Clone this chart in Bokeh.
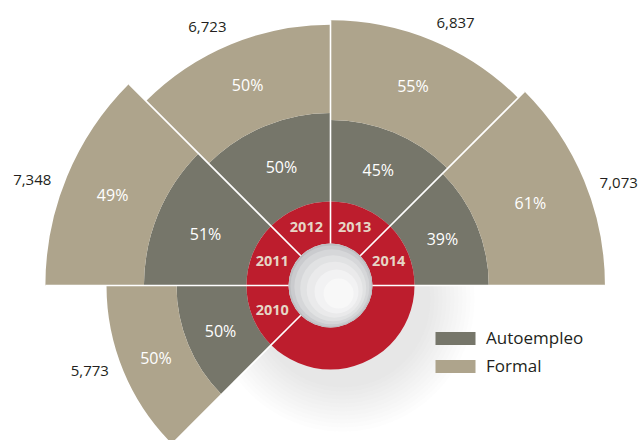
import numpy as np
from bokeh.plotting import figure
from bokeh.models import Legend, LegendItem, ColumnDataSource
from bokeh.embed import file_html
from bokeh.resources import INLINE
from bokeh.core.properties import value

# ---- data ----
years = ["2010", "2011", "2012", "2013", "2014"]
totals = [5773, 7348, 6723, 6837, 7073]
total_labels = ["5,773", "7,348", "6,723", "6,837", "7,073"]
autoempleo_pct = [50, 51, 50, 45, 39]
formal_pct = [50, 49, 50, 55, 61]
series_names = ["Autoempleo", "Formal"]

# ---- style ----
DARK = "#76766a"
LIGHT = "#aea48c"
RED = "#bd1d2d"
YEAR_COLOR = "#e6d6c6"
TXT = "#231f20"
FONT = "Open Sans"

PX = 0.0388          # pixels per person (radial scale)
U = 1.0 / PX         # data units per pixel
CX, CY = 330, 285    # centre in page pixels
OX, OY = 0, 0        # page offset of the figure
W, H = 644, 440
R_HOLE = 42 * U
R_RING = 84 * U

p = figure(width=W, height=H,
           x_range=((OX - CX) * U, (OX + W - CX) * U),
           y_range=((CY - OY - H) * U, (CY - OY) * U),
           output_backend="svg", toolbar_location=None, min_border=0)
p.axis.visible = False
p.grid.visible = False
p.outline_line_color = None
p.background_fill_color = "white"
p.border_fill_color = "white"

n = len(years)
idx = np.arange(n)
start = np.radians((4 - idx) * 45.0)
end = start + np.radians(45.0)
mid = (start + end) / 2
tot = np.array(totals, dtype=float)
split = R_RING + (tot - R_RING) * np.array(autoempleo_pct) / 100.0

# soft shadow under the ring
for r in np.arange(132, 84, -4):
    p.circle(x=12 * U, y=-14 * U, radius=r * U, fill_color="#9a9aa0",
             fill_alpha=0.022, line_color=None)

src = ColumnDataSource(dict(start=start, end=end, split=split, tot=tot,
                            inner=[R_RING] * n))
dark = p.annular_wedge(x=0, y=0, inner_radius="inner", outer_radius="split",
                       start_angle="start", end_angle="end", source=src,
                       fill_color=DARK, line_color=None)
formal = p.annular_wedge(x=0, y=0, inner_radius="split", outer_radius="tot",
                         start_angle="start", end_angle="end", source=src,
                         fill_color=LIGHT, line_color=None)

# red ring
p.annulus(x=0, y=0, inner_radius=R_HOLE, outer_radius=R_RING,
          fill_color=RED, line_color=None)

# hole with a soft gradient
hole_cols = ["#bdbec1", "#cacbce", "#d6d7d9", "#e1e2e3", "#eaeaeb", "#f2f2f3", "#f8f8f8"]
hole_r = [42, 40.5, 37.5, 33, 28, 22, 15]
for c, r in zip(hole_cols, hole_r):
    off = (42 - r) * 0.3
    p.circle(x=off * U, y=-off * U, radius=r * U, fill_color=c, line_color=None)

# white separators between sectors
bang = np.radians(np.arange(0, 226, 45.0))
bend = []
for k in range(len(bang)):
    cand = [R_RING]
    for i in (4 - k, 5 - k):
        if 0 <= i < n:
            cand.append(tot[i])
    bend.append(max(cand))
bend = np.array(bend)
p.segment(x0=R_HOLE * np.cos(bang), y0=R_HOLE * np.sin(bang),
          x1=bend * np.cos(bang), y1=bend * np.sin(bang),
          line_color="white", line_width=1.6)

# year labels
ry = (R_HOLE + R_RING) / 2
p.text(x=ry * np.cos(mid), y=ry * np.sin(mid), text=years,
       text_align="center", text_baseline="middle", text_color=YEAR_COLOR,
       text_font=value(FONT), text_font_style="bold", text_font_size="14.5px")

# percentage labels
rd = (R_RING + split) / 2
rf = (split + tot) / 2
p.text(x=rd * np.cos(mid), y=rd * np.sin(mid), text=[f"{v}%" for v in autoempleo_pct],
       text_align="center", text_baseline="middle", text_color="white",
       text_font=value(FONT), text_font_size="16px")
p.text(x=rf * np.cos(mid), y=rf * np.sin(mid), text=[f"{v}%" for v in formal_pct],
       text_align="center", text_baseline="middle", text_color="white",
       text_font=value(FONT), text_font_size="16px")

# totals outside (label angle pulled slightly toward the horizontal)
lang = mid - np.radians(3.0) * np.sign(np.sin(2 * mid))
rt = tot + (20 + 12 * np.abs(np.cos(lang))) * U
p.text(x=rt * np.cos(lang), y=rt * np.sin(lang), text=total_labels,
       text_align="center", text_baseline="middle", text_color=TXT,
       text_font=value(FONT), text_font_size="15px")

legend = Legend(items=[LegendItem(label=series_names[0], renderers=[dark]),
                       LegendItem(label=series_names[1], renderers=[formal])],
                location=(430, 63), glyph_width=50, glyph_height=16,
                label_height=20, spacing=5, padding=0, margin=0,
                label_standoff=6, label_text_font=FONT,
                label_text_font_size="17px", label_text_color=TXT,
                border_line_color=None, background_fill_alpha=0)
p.add_layout(legend)

open("out.html", "w").write(file_html(p, INLINE))
